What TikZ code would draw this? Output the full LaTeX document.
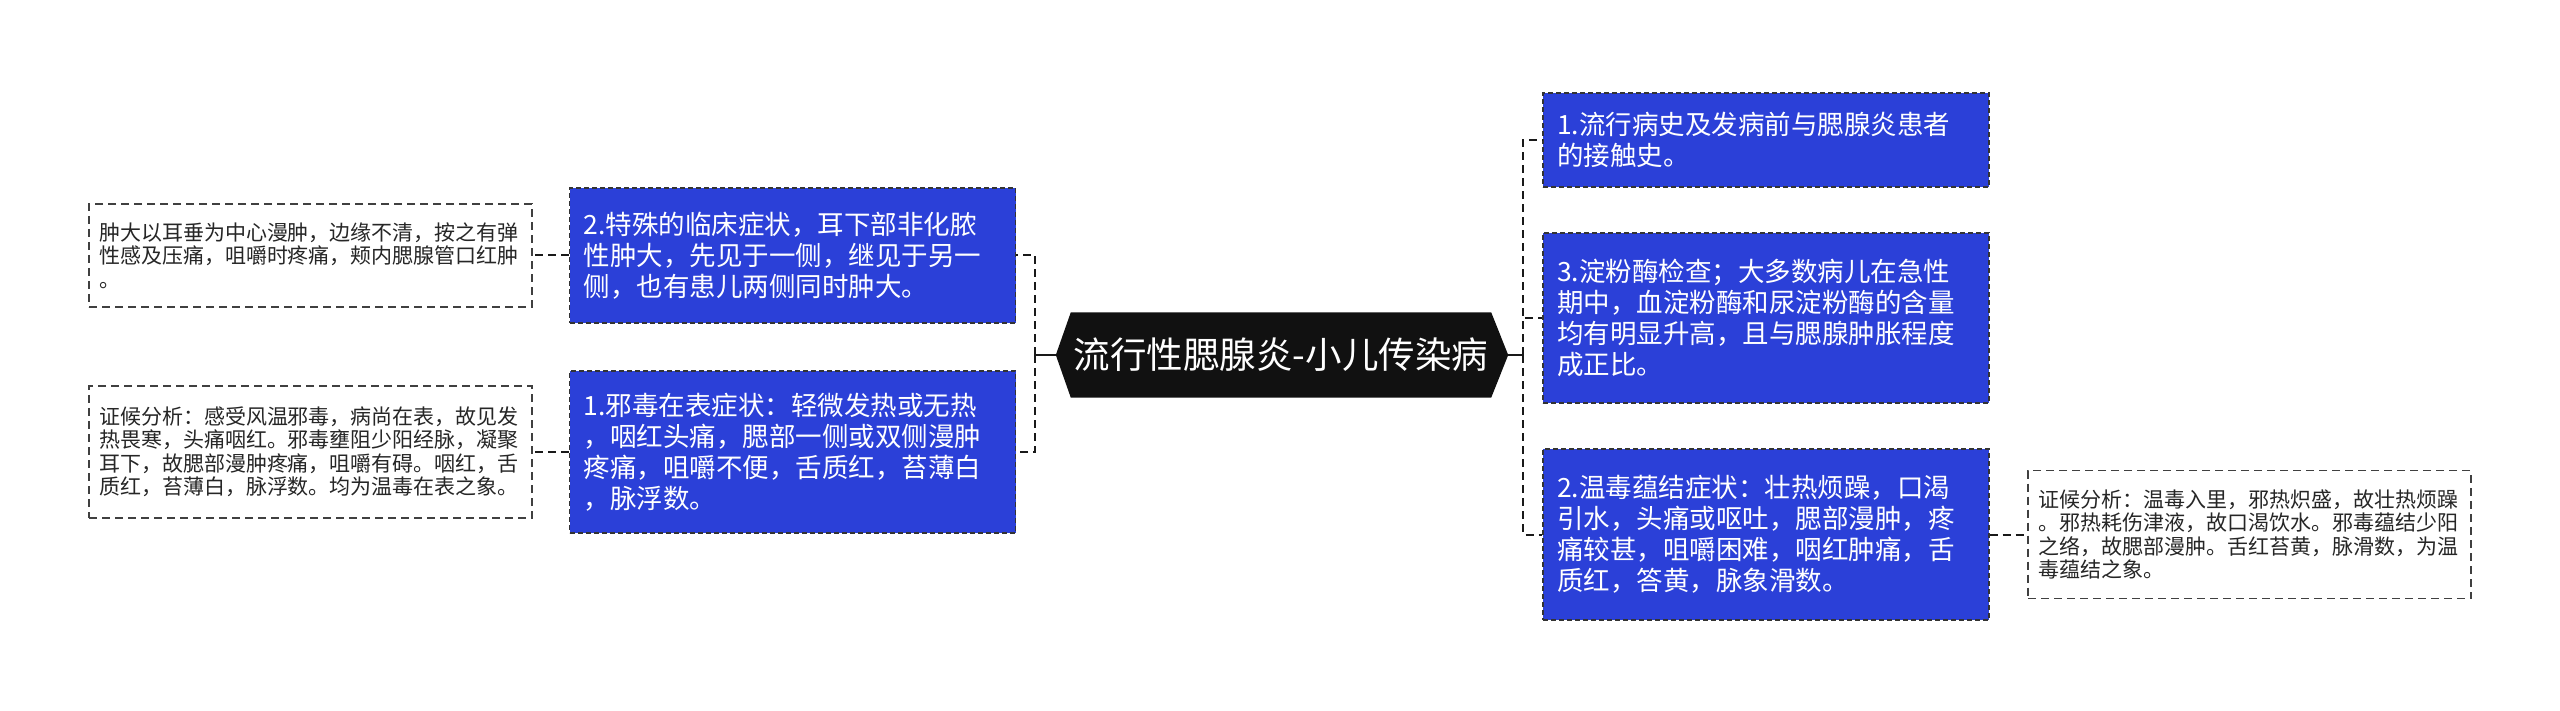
\documentclass[tikz,border=0pt]{standalone}
\usepackage{fontspec}
\setmainfont{Noto Sans CJK SC}
\usetikzlibrary{backgrounds,calc}
\definecolor{boxblue}{HTML}{2B40D8}
\definecolor{hexfill}{HTML}{111111}
\begin{document}
\begin{tikzpicture}[x=1pt,y=-1pt,
  bluebox/.style={draw=black!80, dash pattern=on 5pt off 3pt, line width=1.3pt,
    fill=boxblue, text=white, font=\fontsize{26.5}{31}\selectfont, align=left,
    text width=418pt, inner xsep=14pt, inner ysep=0pt, minimum height=#1},
  notebox/.style={draw=black!75, dash pattern=on 8pt off 5pt, line width=1.3pt,
    fill=white, text=black!85, font=\fontsize{21}{23.5}\selectfont, align=left,
    text width=423pt, inner xsep=10pt, inner ysep=0pt, minimum height=#1},
  conn/.style={draw=black!90, line width=2pt, dash pattern=on 8pt off 5pt},
  stub/.style={draw=black!90, line width=2pt},
  center/.style={text=white, font=\fontsize{36.5}{40}\selectfont,
    minimum width=420pt, minimum height=85pt, inner sep=0pt}
]
\useasboundingbox (0,0) rectangle (2560,711);

% center
\node[center] (c) at (1281,355) {流行性腮腺炎-小儿传染病};
\begin{scope}[on background layer]
  \fill[hexfill] (c.north west) -- (c.north east) -- ([xshift=17pt]c.east)
    -- (c.south east) -- (c.south west) -- ([xshift=-15pt]c.west) -- cycle;
\end{scope}
\coordinate (tl) at ([xshift=-15pt]c.west);
\coordinate (tr) at ([xshift=17pt]c.east);
\coordinate (jl) at (1035,355);
\coordinate (jr) at (1523,355);

% left main
\node[bluebox=135] (l2) at (792.5,255.5) {2.特殊的临床症状，耳下部非化脓\\性肿大，先见于一侧，继见于另一\\侧，也有患儿两侧同时肿大。};
\node[bluebox=162] (l1) at (792.5,452) {1.邪毒在表症状：轻微发热或无热\\，咽红头痛，腮部一侧或双侧漫肿\\疼痛，咀嚼不便，舌质红，苔薄白\\，脉浮数。};

% left notes
\node[notebox=103] (s1) at (310.5,255.5) {肿大以耳垂为中心漫肿，边缘不清，按之有弹\\性感及压痛，咀嚼时疼痛，颊内腮腺管口红肿\\。};
\node[notebox=132] (s2) at (310.5,452) {证候分析：感受风温邪毒，病尚在表，故见发\\热畏寒，头痛咽红。邪毒壅阻少阳经脉，凝聚\\耳下，故腮部漫肿疼痛，咀嚼有碍。咽红，舌\\质红，苔薄白，脉浮数。均为温毒在表之象。};

% right main
\node[bluebox=94] (r1) at (1766,140) {1.流行病史及发病前与腮腺炎患者\\的接触史。};
\node[bluebox=170] (r3) at (1766,318) {3.淀粉酶检查；大多数病儿在急性\\期中，血淀粉酶和尿淀粉酶的含量\\均有明显升高，且与腮腺肿胀程度\\成正比。};
\node[bluebox=171] (r2) at (1766,534.5) {2.温毒蕴结症状：壮热烦躁，口渴\\引水，头痛或呕吐，腮部漫肿，疼\\痛较甚，咀嚼困难，咽红肿痛，舌\\质红，答黄，脉象滑数。};

% right note
\node[notebox=128] (s3) at (2249.5,534.5) {证候分析：温毒入里，邪热炽盛，故壮热烦躁\\。邪热耗伤津液，故口渴饮水。邪毒蕴结少阳\\之络，故腮部漫肿。舌红苔黄，脉滑数，为温\\毒蕴结之象。};

% connectors
\draw[stub] (tl) -- (jl);
\draw[stub] (tr) -- (jr);
\draw[conn] (jl) |- (l2.east);
\draw[conn] (jl) |- (l1.east);
\draw[conn] (jr) |- (r1.west);
\draw[conn] (jr) |- (r3.west);
\draw[conn] (jr) |- (r2.west);
\draw[conn] (l2.west) -- (s1.east);
\draw[conn] (l1.west) -- (s2.east);
\draw[conn] (r2.east) -- (s3.west);
\end{tikzpicture}
\end{document}
